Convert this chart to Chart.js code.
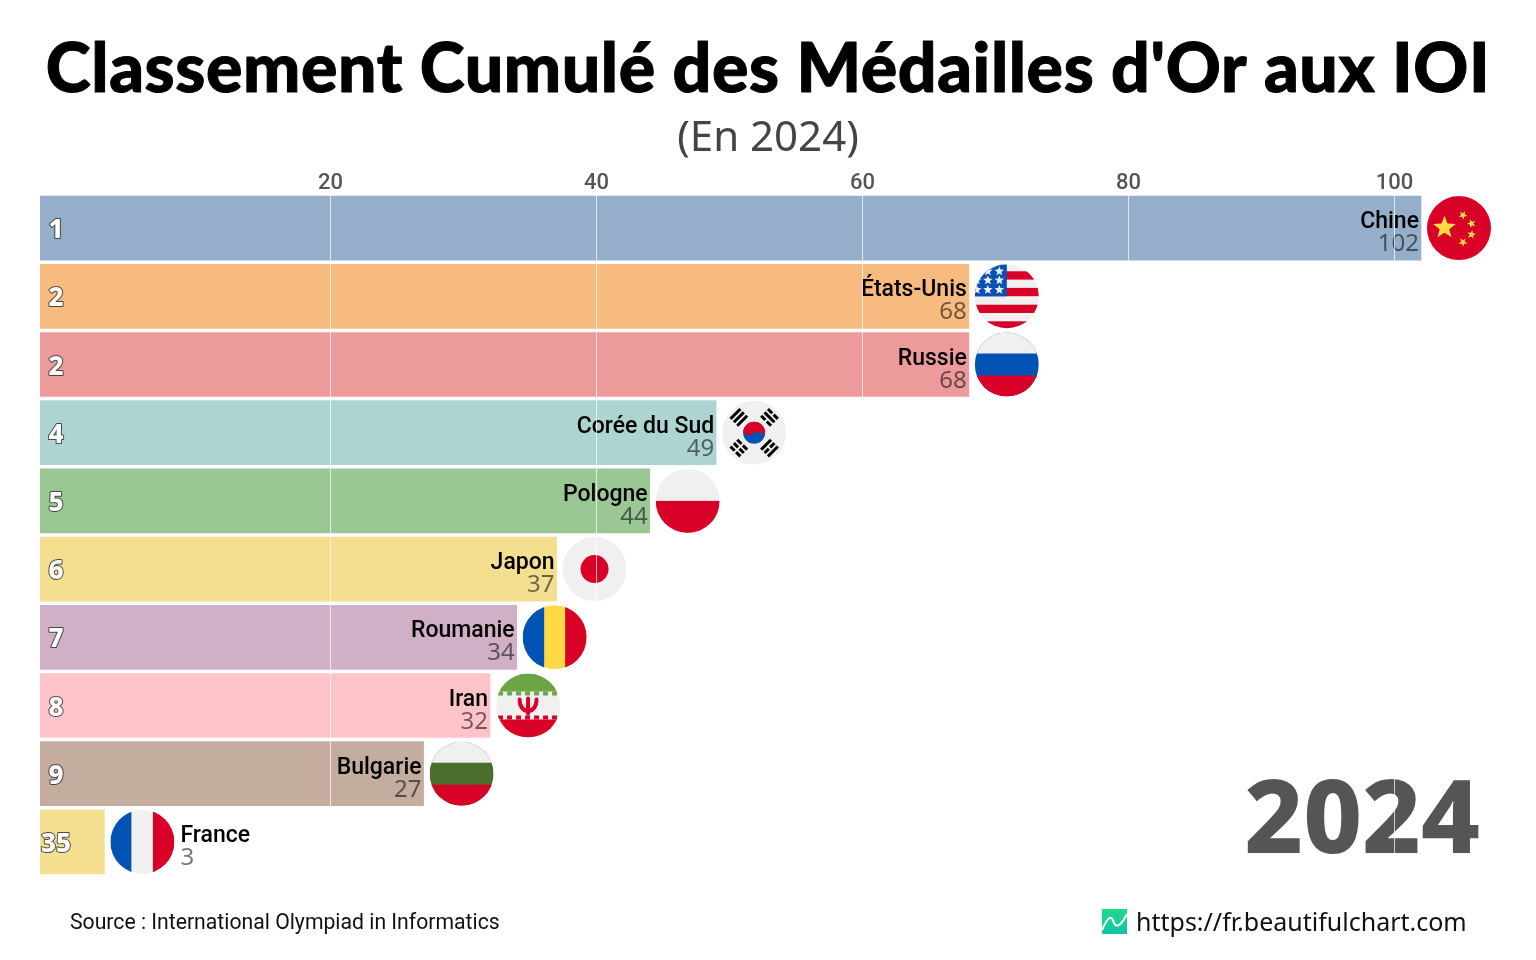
<!DOCTYPE html>
<html lang="fr">
<head>
<meta charset="utf-8">
<title>Classement Cumulé des Médailles d'Or aux IOI</title>
<script src="https://cdn.jsdelivr.net/npm/chart.js@4/dist/chart.umd.min.js"></script>
<style>
    html, body { margin: 0; padding: 0; background: #fff; }
    canvas { display: block; }
</style>
</head>
<body>
<canvas id="raceChart" width="1536" height="960"></canvas>
<script>
const countries = ['Chine', 'États-Unis', 'Russie', 'Corée du Sud', 'Pologne', 'Japon', 'Roumanie', 'Iran', 'Bulgarie', 'France'];
const goldMedals = [102, 68, 68, 49, 44, 37, 34, 32, 27, 3];
const ranks = [1, 2, 2, 4, 5, 6, 7, 8, 9, 35];
const tickValues = [20, 40, 60, 80, 100];
const year = '2024';

const barColors = ['#4E79A7', '#F28E2B', '#E15759', '#76B7B2', '#59A14F', '#EDC948', '#B07AA1', '#FF9DA7', '#9C755F', '#EDC948'];

const RED = '#D80027', BLUE = '#0052B4', YELLOW = '#FFDA44', WHITE = '#F0F0F0';

function band(ctx, x, y, w, h, color) {
    ctx.fillStyle = color;
    ctx.fillRect(x, y, w, h);
}

function star(ctx, x, y, r, color, rot) {
    ctx.beginPath();
    for (let i = 0; i < 10; i++) {
        const a = -Math.PI / 2 + (rot || 0) + i * Math.PI / 5;
        const d = i % 2 ? r * 0.42 : r;
        ctx.lineTo(x + Math.cos(a) * d, y + Math.sin(a) * d);
    }
    ctx.closePath();
    ctx.fillStyle = color;
    ctx.fill();
}

function hStripes(ctx, top, mid, bottom, edge) {
    band(ctx, -32, -32, 64, 64, mid);
    band(ctx, -32, -32, 64, 32 - edge, top);
    band(ctx, -32, edge, 64, 32 - edge, bottom);
}

function vStripes(ctx, left, mid, right, edgeL, edgeR) {
    band(ctx, -32, -32, 64, 64, mid);
    band(ctx, -32, -32, 32 - edgeL, 64, left);
    band(ctx, edgeR, -32, 32 - edgeR, 64, right);
}

// trigram of the Korean flag, pattern = 1 for a full bar, 0 for a broken one
function trigram(ctx, angle, pattern) {
    ctx.save();
    ctx.rotate(angle);
    pattern.forEach((full, i) => {
        const y = -28 + i * 4.8;
        if (full) {
            band(ctx, -7, y, 14, 3, '#000');
        } else {
            band(ctx, -7, y, 6, 3, '#000');
            band(ctx, 1, y, 6, 3, '#000');
        }
    });
    ctx.restore();
}

const flags = {
    'Chine': ctx => {
        band(ctx, -32, -32, 64, 64, RED);
        star(ctx, -14.5, -0.5, 12, YELLOW);
        star(ctx, 4, -13, 4.6, YELLOW, 0.5);
        star(ctx, 12.5, -4.5, 4.6, YELLOW, 0.9);
        star(ctx, 12.5, 6.5, 4.6, YELLOW, 0.2);
        star(ctx, 4, 14, 4.6, YELLOW, 0.6);
    },
    'États-Unis': ctx => {
        band(ctx, -32, -32, 64, 64, WHITE);
        [-25, -8.4, 8.4, 25].forEach(y => band(ctx, -32, y, 64, 8.3, RED));
        band(ctx, -32, -32, 32, 32, BLUE);
        [-25, -16, -6.5].forEach(y => {
            [-7.5, -19, -30].forEach(x => star(ctx, x, y, 5, WHITE));
        });
    },
    'Russie': ctx => hStripes(ctx, WHITE, BLUE, RED, 11),
    'Corée du Sud': ctx => {
        band(ctx, -32, -32, 64, 64, WHITE);
        trigram(ctx, -Math.PI / 4, [1, 1, 1]);
        trigram(ctx, Math.PI / 4, [0, 1, 0]);
        trigram(ctx, -3 * Math.PI / 4, [0, 0, 0]);
        trigram(ctx, 3 * Math.PI / 4, [1, 0, 1]);
        ctx.beginPath();
        ctx.arc(0, 0, 11, 0, Math.PI * 2);
        ctx.fillStyle = BLUE;
        ctx.fill();
        ctx.beginPath();
        ctx.arc(0, 0, 11, Math.PI, 0);
        ctx.bezierCurveTo(7, 3, 3, -3, 0, 0);
        ctx.bezierCurveTo(-3, 3, -7, 3, -11, 0);
        ctx.fillStyle = RED;
        ctx.fill();
    },
    'Pologne': ctx => {
        band(ctx, -32, -32, 64, 32, WHITE);
        band(ctx, -32, 0, 64, 32, RED);
    },
    'Japon': ctx => {
        band(ctx, -32, -32, 64, 64, WHITE);
        ctx.beginPath();
        ctx.arc(0, 0, 14, 0, Math.PI * 2);
        ctx.fillStyle = RED;
        ctx.fill();
    },
    'Roumanie': ctx => vStripes(ctx, BLUE, YELLOW, RED, 10.5, 10.5),
    'Iran': ctx => {
        hStripes(ctx, '#6DA544', WHITE, RED, 14);
        for (let x = -30; x < 30; x += 9) {
            band(ctx, x, -14, 5, 4, '#6DA544');
            band(ctx, x, 10, 5, 4, RED);
        }
        ctx.strokeStyle = RED;
        ctx.lineCap = 'round';
        ctx.lineWidth = 4;
        ctx.beginPath();
        ctx.moveTo(-8.5, -6);
        ctx.quadraticCurveTo(-8.5, 4, 0, 6);
        ctx.quadraticCurveTo(8.5, 4, 8.5, -6);
        ctx.moveTo(0, -7);
        ctx.lineTo(0, 8);
        ctx.stroke();
    },
    'Bulgarie': ctx => hStripes(ctx, WHITE, '#496E2D', RED, 11),
    'France': ctx => vStripes(ctx, BLUE, WHITE, RED, 11, 10.5)
};

function drawFlag(ctx, name, x, y) {
    ctx.save();
    ctx.translate(x, y);
    ctx.beginPath();
    ctx.arc(0, 0, 32, 0, Math.PI * 2);
    ctx.clip();
    flags[name](ctx);
    ctx.restore();
}

function text(ctx, str, x, y, font, color, align) {
    ctx.font = font;
    ctx.fillStyle = color;
    ctx.textAlign = align || 'left';
    ctx.textBaseline = 'alphabetic';
    ctx.fillText(str, x, y);
}

// everything that sits on top of the bars, the white grid comes after this
const overlayPlugin = {
    id: 'overlay',
    afterDatasetsDraw(chart) {
        const ctx = chart.ctx;
        const bars = chart.getDatasetMeta(0).data;
        ctx.save();
        bars.forEach((bar, i) => {
            const name = countries[i];
            drawFlag(ctx, name, bar.x + 38, bar.y);

            ctx.font = '800 26px "Noto Sans"';
            ctx.textAlign = 'center';
            ctx.textBaseline = 'alphabetic';
            ctx.lineJoin = 'round';
            ctx.lineWidth = 2;
            ctx.strokeStyle = 'rgba(50,50,50,0.85)';
            ctx.strokeText(ranks[i], 56, bar.y + 10);
            ctx.fillStyle = '#fff';
            ctx.fillText(ranks[i], 56, bar.y + 10);

            // short bars get the label after the flag
            const outside = goldMedals[i] < 15;
            const lx = outside ? bar.x + 76 : bar.x - 2;
            const align = outside ? 'left' : 'right';
            text(ctx, name, lx, bar.y, '500 23px Roboto', '#000', align);
            text(ctx, goldMedals[i], lx, bar.y + 23, '400 24px "Noto Sans"', 'rgba(0,0,0,0.55)', align);
        });

        // title is a little heavier than the installed Lato, thicken with a thin stroke
        ctx.letterSpacing = '0.6px';
        text(ctx, "Classement Cumulé des Médailles d'Or aux IOI", 768, 92, '900 68px Lato', '#000', 'center');
        ctx.strokeStyle = '#000';
        ctx.lineWidth = 1;
        ctx.strokeText("Classement Cumulé des Médailles d'Or aux IOI", 768, 92);
        ctx.letterSpacing = '0px';

        text(ctx, '(En 2024)', 768, 151, '400 42px "Noto Sans"', '#444', 'center');
        text(ctx, year, 1480, 853, '800 102px "Noto Sans"', '#555', 'right');
        text(ctx, 'Source : International Olympiad in Informatics', 70, 929, '400 21.2px Roboto', '#111');
        text(ctx, 'https://fr.beautifulchart.com', 1136, 931, '400 25px "Noto Sans"', '#111');

        // site logo
        const grad = ctx.createLinearGradient(0, 909, 0, 934);
        grad.addColorStop(0, '#1FD98B');
        grad.addColorStop(1, '#12C4A4');
        band(ctx, 1102, 909, 25, 25, grad);
        ctx.strokeStyle = '#fff';
        ctx.lineWidth = 2;
        ctx.beginPath();
        ctx.moveTo(1102, 930);
        ctx.bezierCurveTo(1109, 914, 1112, 916, 1114, 923);
        ctx.bezierCurveTo(1117, 929, 1122, 924, 1127, 914);
        ctx.stroke();
        ctx.restore();
    }
};

new Chart(document.getElementById('raceChart'), {
    type: 'bar',
    plugins: [overlayPlugin],
    data: {
        labels: countries,
        datasets: [{
            data: goldMedals,
            backgroundColor: barColors.map(c => c + '99'),
            borderWidth: 0,
            barThickness: 64,
            base: -1.842
        }]
    },
    options: {
        indexAxis: 'y',
        responsive: false,
        animation: false,
        layout: { padding: { left: 40, right: 40, top: 154, bottom: 84 } },
        plugins: {
            legend: { display: false },
            title: { display: false },
            tooltip: { enabled: false }
        },
        scales: {
            x: {
                position: 'top',
                min: -1.842,
                max: 107.64,
                afterBuildTicks: axis => { axis.ticks = tickValues.map(v => ({ value: v })); },
                afterFit: axis => { axis.height = 40; },
                border: { display: false },
                grid: { color: 'rgba(255,255,255,0.7)', lineWidth: 1, drawTicks: false, z: 1 },
                ticks: {
                    padding: -3,
                    maxRotation: 0,
                    color: '#555',
                    font: { family: 'Roboto', size: 22, weight: '500' }
                }
            },
            y: {
                display: false,
                afterFit: axis => { axis.width = 0; }
            }
        }
    }
});
</script>
</body>
</html>
